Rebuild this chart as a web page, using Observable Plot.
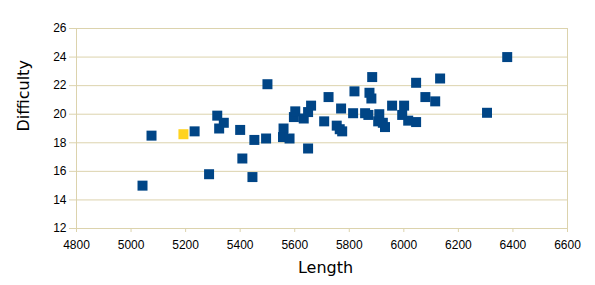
<!DOCTYPE html>
<html><head><meta charset="utf-8">
<script src="https://cdn.jsdelivr.net/npm/d3@7"></script>
<script src="https://cdn.jsdelivr.net/npm/@observablehq/plot@0.6"></script>
<style>body{margin:0;background:#fff}</style>
</head><body><div id="chart"></div>
<script>
const lengths = [5042,5075,5233,5286,5316,5323,5340,5400,5408,5445,5452,5495,5500,5559,5557,5581,5597,5602,5633,5649,5660,5649,5708,5724,5754,5765,5774,5770,5814,5819,5858,5870,5874,5881,5884,5910,5906,5923,5931,5957,5994,6001,6016,6045,6045,6079,6115,6133,6305,6379];
const difficulties = [15.0,18.5,18.8,15.8,19.9,19.0,19.4,18.9,16.9,15.6,18.2,18.3,22.1,19.0,18.4,18.3,19.8,20.2,19.7,20.15,20.6,17.6,19.5,21.2,19.2,18.95,18.8,20.4,20.07,21.6,20.07,19.95,21.5,21.1,22.6,20.0,19.5,19.4,19.1,20.6,19.95,20.6,19.55,19.45,22.2,21.2,20.9,22.5,20.1,24.0];
const highlightLengths = [5192];
const highlightDifficulties = [18.6];
const xTicks = [4800,5000,5200,5400,5600,5800,6000,6200,6400,6600];
const yTicks = [12,14,16,18,20,22,24,26];
const seriesNames = ["main","highlight"];
const seriesColors = ["#004586","#ffd320"];
const xTitle = "Length";
const yTitle = "Difficulty";

const points = lengths.map((l,i)=>({length:l, difficulty:difficulties[i], series:"main"}))
  .concat(highlightLengths.map((l,i)=>({length:l, difficulty:highlightDifficulties[i], series:"highlight"})));

const tan = "#dcd3ad";
const plot = Plot.plot({
  width: 595, height: 285,
  marginLeft: 76, marginRight: 28, marginTop: 28, marginBottom: 57,
  style: {fontFamily: "'Liberation Sans', Arial, sans-serif", fontSize: "12px", background: "#fff", color: "#000"},
  x: {domain: [4800, 6600], ticks: xTicks},
  y: {domain: [12, 26], ticks: yTicks},
  color: {domain: seriesNames, range: seriesColors},
  marks: [
    Plot.gridY(yTicks, {stroke: tan, strokeOpacity: 1}),
    Plot.ruleX([4800, 6600], {stroke: tan}),
    Plot.axisY(yTicks, {tickSize: 7, tickPadding: 3, stroke: tan, fill: "#000", label: null, fontSize: 12, tickFormat: "d"}),
    Plot.axisX(xTicks, {tickSize: 4, tickPadding: 8, stroke: tan, fill: "#000", label: null, fontSize: 12, tickFormat: "d"}),
    Plot.dot(points, {x: "length", y: "difficulty", fill: "series", symbol: "square", r: 5.64, stroke: null}),
    Plot.text([yTitle], {frameAnchor: "left", rotate: -90, dx: -53, dy: 3, fontSize: 16, fontFamily: "'DejaVu Sans', sans-serif", fill: "#000"}),
    Plot.text([xTitle], {frameAnchor: "bottom", dx: 3.5, dy: 44, fontSize: 16, fontFamily: "'DejaVu Sans', sans-serif", fill: "#000"})
  ]
});
document.getElementById("chart").appendChild(plot);
</script>
</body></html>
